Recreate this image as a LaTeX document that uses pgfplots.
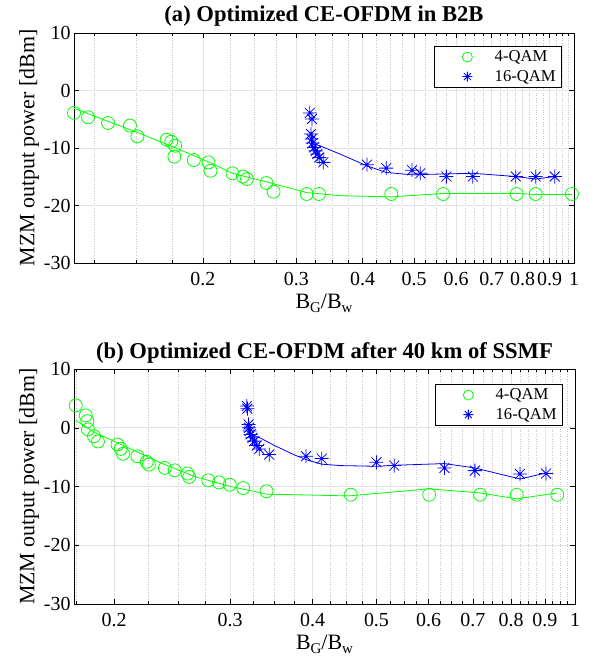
\documentclass[border=0pt]{standalone}
\usepackage{fontspec}
\setmainfont{Liberation Serif}
\usepackage{pgfplots}
\pgfplotsset{compat=1.18}
\definecolor{mgreen}{RGB}{0,255,0}
\definecolor{mblue}{RGB}{0,0,255}
\pgfdeclareplotmark{ast8}{%
  \pgfpathmoveto{\pgfqpoint{0pt}{\pgfplotmarksize}}\pgfpathlineto{\pgfqpoint{0pt}{-\pgfplotmarksize}}%
  \pgfpathmoveto{\pgfqpoint{\pgfplotmarksize}{0pt}}\pgfpathlineto{\pgfqpoint{-\pgfplotmarksize}{0pt}}%
  \pgfpathmoveto{\pgfqpoint{0.707\pgfplotmarksize}{0.707\pgfplotmarksize}}\pgfpathlineto{\pgfqpoint{-0.707\pgfplotmarksize}{-0.707\pgfplotmarksize}}%
  \pgfpathmoveto{\pgfqpoint{0.707\pgfplotmarksize}{-0.707\pgfplotmarksize}}\pgfpathlineto{\pgfqpoint{-0.707\pgfplotmarksize}{0.707\pgfplotmarksize}}%
  \pgfusepathqstroke}
\newcommand{\xlab}{B\raisebox{-0.45ex}{\fontsize{15}{15}\selectfont G}/B\raisebox{-0.45ex}{\fontsize{15}{15}\selectfont w}}
\begin{document}
\begin{tikzpicture}
\useasboundingbox (0,0) rectangle (595bp,666bp);
% ---------------- (a)
\begin{axis}[
  at={(74bp,403bp)}, anchor=south west, width=500bp, height=230bp,
  scale only axis,
  xmode=log, xmin=0.1144, xmax=1, ymin=-30, ymax=10,
  ytick={-30,-20,-10,0,10}, yticklabels={-30,-20,-10,0,10},
  xtick={0.2,0.3,0.4,0.5,0.6,0.7,0.8,0.9,1},
  xticklabels={0.2,0.3,0.4,0.5,0.6,0.7,0.8,0.9,1},
  minor xtick={0.125,0.15,0.175,0.225,0.25,0.275,0.325,0.35,0.375,0.425,0.45,0.475,0.525,0.55,0.575,0.625,0.65,0.675,0.725,0.75,0.775,0.825,0.85,0.875,0.925,0.95,0.975},
  xmajorgrids, xminorgrids, ymajorgrids,
  major grid style={gray!22, line width=0.6pt},
  minor grid style={gray!45, dotted, line width=0.5pt},
  axis line style={black, line width=0.6pt},
  tick style={black, line width=0.5pt},
  major tick length=5bp, minor tick length=3bp,
  tick align=inside,
  tick label style={font=\fontsize{20}{24}\selectfont},
  xticklabel style={yshift=-6bp},
  label style={font=\fontsize{22}{26}\selectfont},
  title style={font=\fontsize{22.7}{26}\selectfont\bfseries, yshift=-3bp},
  xlabel={\xlab},
  xlabel style={yshift=-1bp},
  ylabel={MZM output power [dBm]},
  ylabel style={yshift=-2bp},
  legend style={font=\fontsize{16.7}{20}\selectfont, draw=black, line width=0.6pt,
    at={(0.976,0.9435)}, anchor=north east, row sep=3bp, column sep=4bp,
    inner xsep=4bp, inner ysep=2.5bp, nodes={inner sep=2bp}},
  legend cell align=left,
  title={(a) Optimized CE-OFDM in B2B},
]
\addplot[only marks, mgreen, mark=o, mark size=6.5bp, mark options={line width=0.8pt},
  legend image code/.code={\draw[mgreen, line width=0.8pt] plot[mark=o, mark size=5bp] coordinates {(29bp,0bp)}; \path (0bp,0bp) (50bp,0bp);}] coordinates {
(0.1144,-3.9) (0.1216,-4.66) (0.1326,-5.65) (0.1458,-6.1) (0.1506,-7.98)
(0.171,-8.55) (0.1744,-8.9) (0.1774,-9.6) (0.1768,-11.5) (0.1924,-12.1)
(0.205,-12.5) (0.2068,-13.96) (0.2274,-14.4) (0.238,-14.96) (0.2422,-15.4)
(0.2636,-16.1) (0.2718,-17.6) (0.3138,-18.0) (0.331,-18.0) (0.4528,-18.0)
(0.567,-18.0) (0.78,-18.0) (0.847,-18.0) (0.991,-18.0)};
\addlegendentry{4-QAM}
\addplot[only marks, mblue, mark=ast8, mark size=7bp, mark options={line width=0.8pt},
  legend image code/.code={\draw[mblue, line width=0.8pt] plot[mark=ast8, mark size=5bp] coordinates {(29bp,0bp)}; \path (0bp,0bp) (50bp,0bp);}] coordinates {
(0.318,-3.9) (0.3211,-4.96) (0.3197,-7.57) (0.3206,-8.45) (0.322,-9.14)
(0.3238,-9.9) (0.3262,-10.5) (0.3285,-11.06) (0.3314,-11.64) (0.3372,-12.5)
(0.4074,-12.9) (0.443,-13.5) (0.4954,-13.86) (0.5136,-14.4) (0.575,-14.96)
(0.645,-14.96) (0.777,-14.96) (0.847,-14.96) (0.92,-14.96)};
\addlegendentry{16-QAM}
\addplot[mgreen, line width=0.8pt, no marks, forget plot] coordinates {
(0.1144,-3.1) (0.1326,-5.36) (0.1506,-7.3) (0.1768,-9.9) (0.206,-12.5)
(0.2274,-14.4) (0.2636,-15.9) (0.3138,-17.75) (0.3626,-18.3) (0.4528,-18.5)
(0.567,-17.9) (0.78,-17.9) (0.847,-18.1) (0.991,-18.1)};
\addplot[mblue, line width=0.8pt, no marks, forget plot] coordinates {
(0.323,-9.3) (0.332,-9.6) (0.3626,-11.06) (0.4074,-13.1) (0.443,-14.26)
(0.4954,-14.66) (0.575,-14.5) (0.645,-14.4) (0.777,-14.96) (0.847,-15.4) (0.92,-14.96)};
\end{axis}
% ---------------- (b)
\begin{axis}[
  at={(74bp,62bp)}, anchor=south west, width=501bp, height=235bp,
  scale only axis,
  xmode=log, xmin=0.1739, xmax=1, ymin=-30, ymax=10,
  ytick={-30,-20,-10,0,10}, yticklabels={-30,-20,-10,0,10},
  xtick={0.2,0.3,0.4,0.5,0.6,0.7,0.8,0.9,1},
  xticklabels={0.2,0.3,0.4,0.5,0.6,0.7,0.8,0.9,1},
  minor xtick={0.175,0.225,0.25,0.275,0.325,0.35,0.375,0.425,0.45,0.475,0.525,0.55,0.575,0.625,0.65,0.675,0.725,0.75,0.775,0.825,0.85,0.875,0.925,0.95,0.975},
  xmajorgrids, xminorgrids, ymajorgrids,
  major grid style={gray!22, line width=0.6pt},
  minor grid style={gray!45, dotted, line width=0.5pt},
  axis line style={black, line width=0.6pt},
  tick style={black, line width=0.5pt},
  major tick length=5bp, minor tick length=3bp,
  tick align=inside,
  tick label style={font=\fontsize{20}{24}\selectfont},
  xticklabel style={yshift=-6bp},
  label style={font=\fontsize{22}{26}\selectfont},
  title style={font=\fontsize{22.7}{26}\selectfont\bfseries, yshift=-4bp},
  xlabel={\xlab},
  xlabel style={yshift=-1bp},
  ylabel={MZM output power [dBm]},
  ylabel style={yshift=-2bp},
  legend style={font=\fontsize{16.7}{20}\selectfont, draw=black, line width=0.6pt,
    at={(0.976,0.936)}, anchor=north east, row sep=3bp, column sep=4bp,
    inner xsep=4bp, inner ysep=2.5bp, nodes={inner sep=2bp}},
  legend cell align=left,
  title={(b) Optimized CE-OFDM after 40 km of SSMF},
]
\addplot[only marks, mgreen, mark=o, mark size=6.5bp, mark options={line width=0.8pt},
  legend image code/.code={\draw[mgreen, line width=0.8pt] plot[mark=o, mark size=5bp] coordinates {(29bp,0bp)}; \path (0bp,0bp) (50bp,0bp);}] coordinates {
(0.175,3.8) (0.1812,2.1) (0.1822,1.13) (0.1826,-0.29) (0.1865,-1.44)
(0.1891,-2.34) (0.2024,-2.85) (0.2047,-3.6) (0.2064,-4.44) (0.217,-4.85)
(0.2242,-5.8) (0.2259,-6.27) (0.2388,-6.84) (0.2472,-7.25) (0.2585,-7.8)
(0.26,-8.38) (0.278,-8.96) (0.2886,-9.3) (0.2996,-9.7) (0.314,-10.26)
(0.3406,-10.8) (0.457,-11.4) (0.601,-11.4) (0.718,-11.4) (0.816,-11.4) (0.94,-11.4)};
\addlegendentry{4-QAM}
\addplot[only marks, mblue, mark=ast8, mark size=7bp, mark options={line width=0.8pt},
  legend image code/.code={\draw[mblue, line width=0.8pt] plot[mark=ast8, mark size=5bp] coordinates {(29bp,0bp)}; \path (0bp,0bp) (50bp,0bp);}] coordinates {
(0.318,3.7) (0.3186,3.25) (0.3199,0.56) (0.3204,0) (0.321,-0.57)
(0.3222,-1.14) (0.3243,-1.71) (0.3262,-2.28) (0.3292,-3.03) (0.332,-3.6)
(0.3438,-4.56) (0.391,-4.85) (0.413,-5.25) (0.5,-5.88) (0.532,-6.44)
(0.634,-6.84) (0.705,-7.3) (0.825,-7.86) (0.904,-7.8)};
\addlegendentry{16-QAM}
\addplot[mgreen, line width=0.8pt, no marks, forget plot] coordinates {
(0.175,1.25) (0.1865,-0.75) (0.2024,-2.56) (0.2354,-5.98) (0.2645,-8.27)
(0.297,-9.86) (0.3406,-11.3) (0.441,-11.57) (0.457,-11.57) (0.601,-10.4)
(0.718,-11.1) (0.816,-12.1) (0.94,-11.1)};
\addplot[mblue, line width=0.8pt, no marks, forget plot] coordinates {
(0.322,-1.1) (0.334,-1.8) (0.35,-3.0) (0.375,-4.6) (0.393,-5.5) (0.413,-6.2)
(0.441,-6.44) (0.5,-6.56) (0.532,-6.39) (0.634,-6.1) (0.705,-6.84) (0.825,-8.72) (0.904,-7.7)};
\end{axis}
\end{tikzpicture}
\end{document}
